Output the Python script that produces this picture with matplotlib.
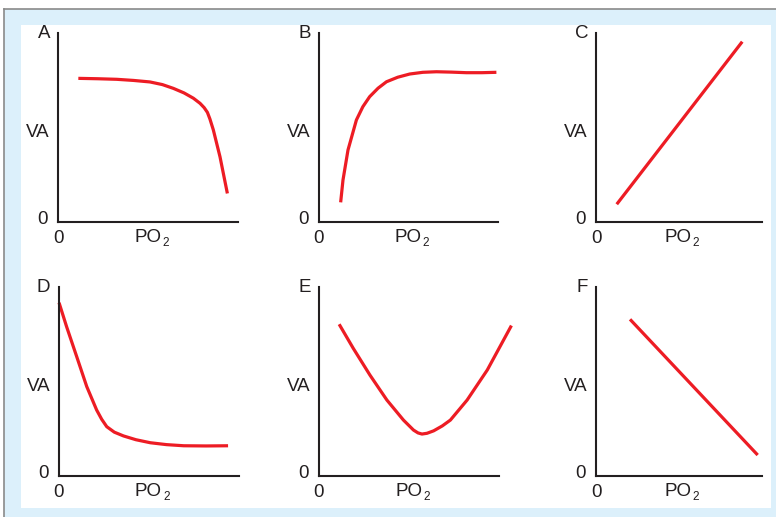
import numpy as np
import matplotlib
matplotlib.use("Agg")
import matplotlib.pyplot as plt
from matplotlib.patches import Rectangle

plt.rcParams['font.family'] = ['Liberation Sans', 'DejaVu Sans']

# curves, axes scaled 0..10 on both sides
a_x = [1.13, 2.2, 3.26, 4.2, 5.11, 5.8, 6.41, 7.0, 7.52, 7.89, 8.12, 8.30, 8.44, 8.63, 9.0, 9.41]
a_y = [7.60, 7.58, 7.55, 7.49, 7.41, 7.27, 7.07, 6.83, 6.55, 6.28, 6.05, 5.80, 5.45, 4.87, 3.45, 1.51]

b_x = [1.21, 1.34, 1.62, 2.09, 2.45, 2.83, 3.3, 3.77, 4.4, 5.07, 5.8, 6.56, 7.4, 8.23, 9.1, 9.91]
b_y = [1.04, 2.22, 3.81, 5.40, 6.10, 6.63, 7.08, 7.42, 7.66, 7.83, 7.92, 7.95, 7.93, 7.90, 7.90, 7.92]

c_x = [1.25, 8.81]
c_y = [0.94, 9.54]

d_x = [0.03, 0.45, 1.01, 1.57, 2.12, 2.40, 2.68, 3.1, 3.61, 4.3, 5.10, 6.0, 6.96, 8.2, 9.42]
d_y = [9.17, 7.90, 6.32, 4.73, 3.49, 3.00, 2.61, 2.32, 2.12, 1.92, 1.76, 1.66, 1.60, 1.59, 1.60]

e_x = [1.12, 1.90, 2.83, 3.77, 4.69, 5.25, 5.50, 5.72, 6.00, 6.37, 6.85, 7.30, 8.23, 9.35, 10.69]
e_y = [8.03, 6.76, 5.34, 4.02, 2.96, 2.43, 2.28, 2.22, 2.26, 2.39, 2.65, 2.96, 4.02, 5.61, 7.96]

f_x = [2.05, 9.74]
f_y = [8.29, 1.11]

panels = ['A', 'B', 'C', 'D', 'E', 'F']
curves = [(a_x, a_y), (b_x, b_y), (c_x, c_y), (d_x, d_y), (e_x, e_y), (f_x, f_y)]

W, H = 776, 517
fig = plt.figure(figsize=(W / 100, H / 100), dpi=100)
fig.patch.set_facecolor('white')

# light blue frame with white page, grey rule on top/left
def px_rect(x0, y0, x1, y1, **kw):
    return Rectangle((x0 / W, 1 - y1 / H), (x1 - x0) / W, (y1 - y0) / H,
                     transform=fig.transFigure, **kw)

fig.patches.append(px_rect(4, 9, W, H, facecolor='#dcf0fb', edgecolor='none', zorder=-10))
fig.patches.append(px_rect(21, 25, 771, 508, facecolor='white', edgecolor='none', zorder=-9))
fig.add_artist(plt.Line2D([4 / W, 1], [1 - 9 / H, 1 - 9 / H], color='#8a8a8a', lw=1.2,
                          transform=fig.transFigure, zorder=-8))
fig.add_artist(plt.Line2D([4 / W, 4 / W], [0, 1 - 9 / H], color='#8a8a8a', lw=1.2,
                          transform=fig.transFigure, zorder=-8))

# axes positions in pixels: left x, bottom y, width
boxes = [(58, 222, 180), (319, 222, 179), (596, 222, 166),
         (58.5, 476, 180), (319, 476, 180), (596, 476, 166)]
ax_h = 189

axk = '#231f20'
red = '#ed1c24'
fs = 13.5

for lab, (cx, cy), (lx, by, w) in zip(panels, curves, boxes):
    ax = fig.add_axes([lx / W, (H - by) / H, w / W, ax_h / H])
    ax.patch.set_alpha(0)
    ax.set_xlim(0, 10)
    ax.set_ylim(0, 10)
    for s in ['top', 'right']:
        ax.spines[s].set_visible(False)
    for s in ['left', 'bottom']:
        ax.spines[s].set_linewidth(1.5)
        ax.spines[s].set_color(axk)
    ax.set_xticks([])
    ax.set_yticks([])

    ax.plot(cx, cy, color=red, lw=2.3, solid_capstyle='butt',
            solid_joinstyle='round', clip_on=False)

    def lbl(s, xy, off, ha='center', size=fs):
        ax.annotate(s, xy=xy, xycoords='axes fraction', xytext=off,
                    textcoords='offset pixels', ha=ha, va='center',
                    fontsize=size, color=axk)

    lbl(lab, (0, 1), (-8, 0), 'right')
    lbl('VA', (0, 0.475), (-8, 0), 'right')
    lbl('0', (0, 0), (-10, 3), 'right')
    lbl('0', (0, 0), (0, -16.5))
    lbl('PO', (0.575, 0), (0, -15), 'right')
    lbl('2', (0.575, 0), (1, -21), 'left', 8.5)

fig.savefig('out.png', dpi=100)
